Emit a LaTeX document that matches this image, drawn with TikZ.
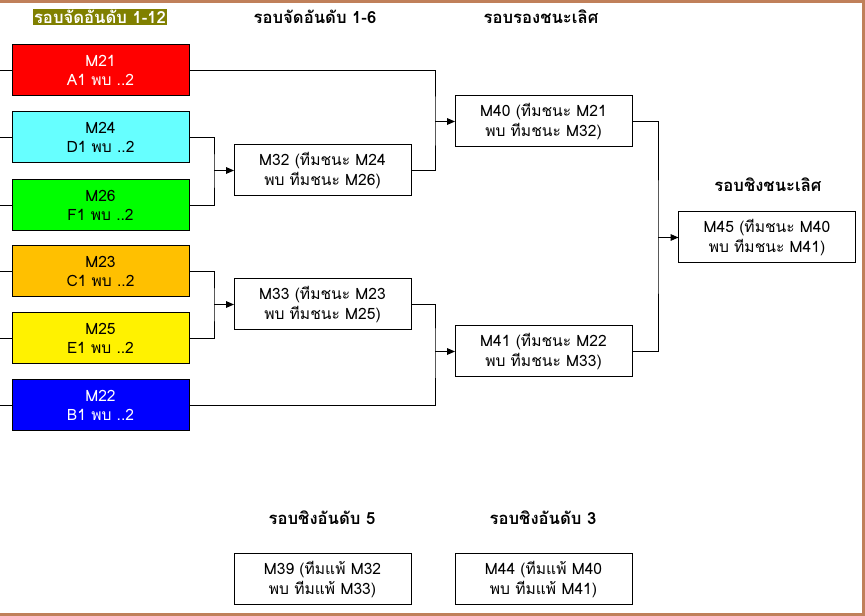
\documentclass[tikz,border=0pt]{standalone}
\usepackage{fontspec}
\setmainfont[Script=Thai]{Loma}
\usetikzlibrary{arrows.meta}
\definecolor{frame}{HTML}{C0805A}
\definecolor{olivebg}{HTML}{808000}
\definecolor{cyanbox}{HTML}{66FFFF}
\definecolor{orangebox}{HTML}{FFC000}
\tikzset{
  box/.style={draw=black, line width=0.75pt, minimum width=132.75pt, minimum height=38.25pt,
    inner sep=0pt, outer sep=0pt, align=center, font=\fontsize{11.7}{14.5}\selectfont},
  head/.style={font=\bfseries\fontsize{12.5}{15}\selectfont, inner sep=1pt},
  conn/.style={line width=0.75pt},
  arr/.style={line width=0.75pt, -{Triangle[length=6pt,width=5pt]}}
}
\begin{document}
\begin{tikzpicture}[x=0.75pt,y=-0.75pt]
\useasboundingbox (0,0) rectangle (865,616);
\fill[white] (0,0) rectangle (865,616);
\fill[frame] (0,0) rectangle (865,3);
\fill[frame] (862,0) rectangle (865,616);
\fill[frame] (0,613) rectangle (865,616);

% headings
\node[head, fill=olivebg, text=white] (h1) at (100,17) {รอบจัดอันดับ 1-12};
\node[head] (h2) at (315,17) {รอบจัดอันดับ 1-6};
\node[head] (h3) at (541,17) {รอบรองชนะเลิศ};
\node[head] (h4) at (768,185) {รอบชิงชนะเลิศ};
\node[head] (h5) at (322,518) {รอบชิงอันดับ 5};
\node[head] (h6) at (543,518) {รอบชิงอันดับ 3};

% first round
\node[box, fill=red, text=white] (M21) at (100.5,70.5) {M21\\A1 พบ ..2};
\node[box, fill=cyanbox] (M24) at (100.5,137.5) {M24\\D1 พบ ..2};
\node[box, fill=green] (M26) at (100.5,205.5) {M26\\F1 พบ ..2};
\node[box, fill=orangebox] (M23) at (100.5,271.5) {M23\\C1 พบ ..2};
\node[box, fill=yellow] (M25) at (100.5,338.5) {M25\\E1 พบ ..2};
\node[box, fill=blue, text=white] (M22) at (100.5,405.5) {M22\\B1 พบ ..2};

% later rounds
\node[box] (M32) at (322.5,170.5) {M32 (ทีมชนะ M24\\พบ ทีมชนะ M26)};
\node[box] (M33) at (322.5,304.5) {M33 (ทีมชนะ M23\\พบ ทีมชนะ M25)};
\node[box] (M40) at (543.5,121.5) {M40 (ทีมชนะ M21\\พบ ทีมชนะ M32)};
\node[box] (M41) at (543.5,351.5) {M41 (ทีมชนะ M22\\พบ ทีมชนะ M33)};
\node[box] (M45) at (767,237.5) {M45 (ทีมชนะ M40\\พบ ทีมชนะ M41)};
\node[box] (M39) at (322.5,579.5) {M39 (ทีมแพ้ M32\\พบ ทีมแพ้ M33)};
\node[box] (M44) at (543.5,579.5) {M44 (ทีมแพ้ M40\\พบ ทีมแพ้ M41)};

% free ends at the left
\coordinate (l21) at (0,70.5);
\coordinate (l24) at (0,137.5);
\coordinate (l26) at (0,205.5);
\coordinate (l23) at (0,271.5);
\coordinate (l25) at (0,338.5);
\coordinate (l22) at (0,405.5);
\foreach \n in {21,24,26,23,25,22} \draw[conn] (l\n) -- (M\n.west);

% junctions
\coordinate (j32) at (214,170.5);
\coordinate (j33) at (214,304.5);
\coordinate (j40) at (435,121.5);
\coordinate (j41) at (435,351.5);
\coordinate (j45) at (658,237.5);

\draw[conn] (M24.east) -| (j32) |- (M26.east);
\draw[arr] (j32) -- (M32.west);
\draw[conn] (M23.east) -| (j33) |- (M25.east);
\draw[arr] (j33) -- (M33.west);
\draw[conn] (M21.east) -| (j40) |- (M32.east);
\draw[arr] (j40) -- (M40.west);
\draw[conn] (M33.east) -| (j41) |- (M22.east);
\draw[arr] (j41) -- (M41.west);
\draw[conn] (M40.east) -| (j45) |- (M41.east);
\draw[arr] (j45) -- (M45.west);
\end{tikzpicture}
\end{document}
